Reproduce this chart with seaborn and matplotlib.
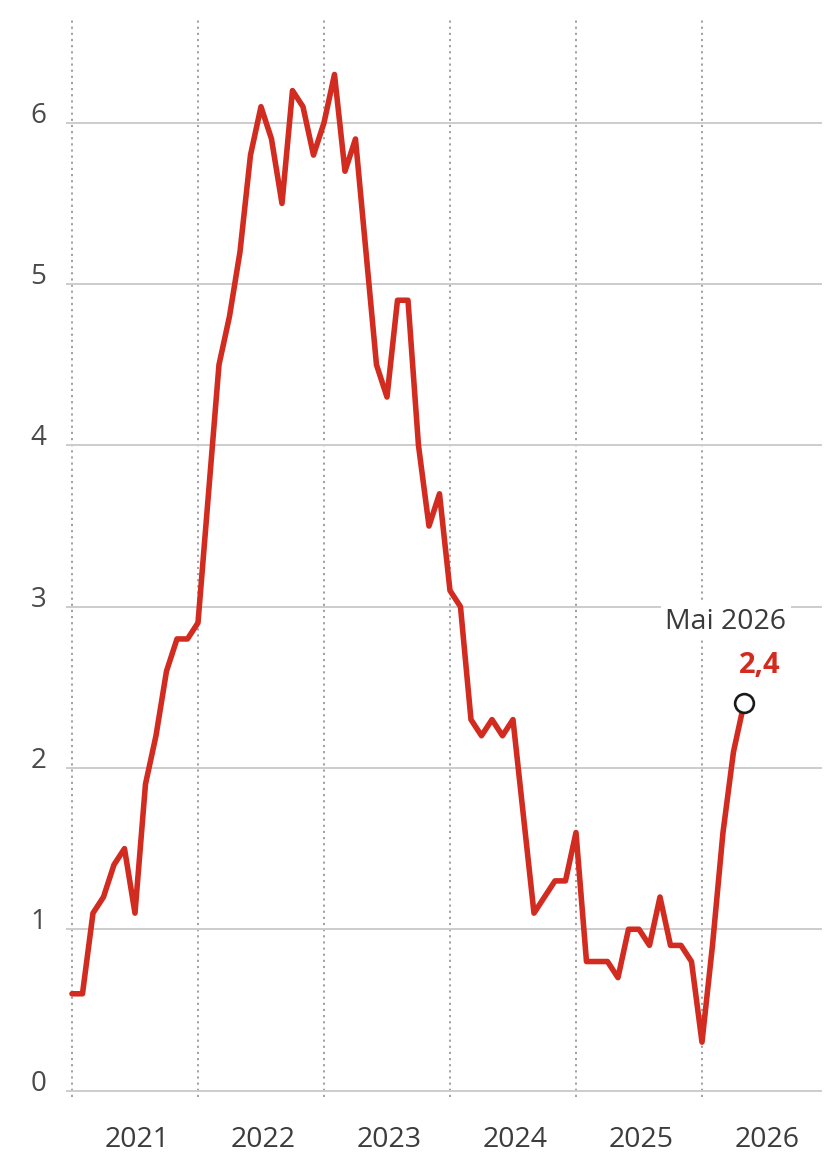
import matplotlib
matplotlib.use("Agg")
import matplotlib.pyplot as plt
import seaborn as sns
import numpy as np
import pandas as pd

# Monthly values, Jan 2021 .. May 2026
values_2021 = [0.6, 0.6, 1.1, 1.2, 1.4, 1.5, 1.1, 1.9, 2.2, 2.6, 2.8, 2.8]
values_2022 = [2.9, 3.7, 4.5, 4.8, 5.2, 5.8, 6.1, 5.9, 5.5, 6.2, 6.1, 5.8]
values_2023 = [6.0, 6.3, 5.7, 5.9, 5.2, 4.5, 4.3, 4.9, 4.9, 4.0, 3.5, 3.7]
values_2024 = [3.1, 3.0, 2.3, 2.2, 2.3, 2.2, 2.3, 1.7, 1.1, 1.2, 1.3, 1.3]
values_2025 = [1.6, 0.8, 0.8, 0.8, 0.7, 1.0, 1.0, 0.9, 1.2, 0.9, 0.9, 0.8]
values_2026 = [0.3, 0.9, 1.6, 2.1, 2.4]

year_labels = ["2021", "2022", "2023", "2024", "2025", "2026"]
y_ticks = [0, 1, 2, 3, 4, 5, 6]
last_label = "Mai 2026"
last_value_label = "2,4"

values = values_2021 + values_2022 + values_2023 + values_2024 + values_2025 + values_2026
df = pd.DataFrame({"month": np.arange(len(values)), "value": values})

RED = "#d22b20"

sns.set_theme(style="white")
plt.rcParams["font.family"] = ["Open Sans", "DejaVu Sans"]

fig = plt.figure(figsize=(8.39, 11.54), dpi=100)
ax = fig.add_axes([66 / 839, 1 - 1097 / 1154, (822 - 66) / 839, (1097 - 18) / 1154])

sns.lineplot(data=df, x="month", y="value", ax=ax, color=RED, linewidth=4.0,
             solid_joinstyle="round", solid_capstyle="round", zorder=3)

last = df.iloc[-1]
ax.plot([last["month"]], [last["value"]], marker="o", markersize=13.5,
        markerfacecolor="white", markeredgecolor="#1a1a1a", markeredgewidth=1.9,
        zorder=4, clip_on=False)

ax.set_xlim(-0.57, 71.43)
ax.set_ylim(-0.04, 6.65)

# vertical dotted year separators
ax.set_xticks([12 * k for k in range(len(year_labels))])
ax.set_xticklabels([""] * len(year_labels))
ax.set_xticks([6.2 + 12 * k for k in range(len(year_labels))], minor=True)
ax.set_xticklabels(year_labels, minor=True)
ax.tick_params(axis="x", which="both", length=0)
ax.tick_params(axis="x", which="minor", pad=21, labelsize=20.5, labelcolor="#3c3c3c")

ax.set_yticks(y_ticks)
ax.set_yticklabels([str(t) for t in y_ticks])
ax.tick_params(axis="y", length=0, pad=14, labelsize=20, labelcolor="#4a4a4a")
for lab in ax.get_yticklabels():
    lab.set_verticalalignment("baseline")

ax.grid(axis="y", which="major", color="#cccccc", linewidth=1.4, linestyle="-")
ax.grid(axis="x", which="major", color="#9a9a9a", linewidth=1.3, linestyle=(0, (1.2, 2.2)))
ax.set_axisbelow(True)

for s in ax.spines.values():
    s.set_visible(False)

ax.set_xlabel("")
ax.set_ylabel("")

ax.annotate(last_label, xy=(last["month"], last["value"]), xytext=(-13, 59),
            textcoords="offset points", ha="center", va="center",
            fontsize=20.5, color="#3a3a3a",
            bbox=dict(boxstyle="square,pad=0.15", facecolor="white", edgecolor="none"),
            zorder=5)
ax.annotate(last_value_label, xy=(last["month"], last["value"]), xytext=(11.5, 27.5),
            textcoords="offset points", ha="center", va="center",
            fontsize=21, color=RED, fontweight="bold", zorder=5)

fig.savefig("out.png", dpi=100, facecolor="white")
